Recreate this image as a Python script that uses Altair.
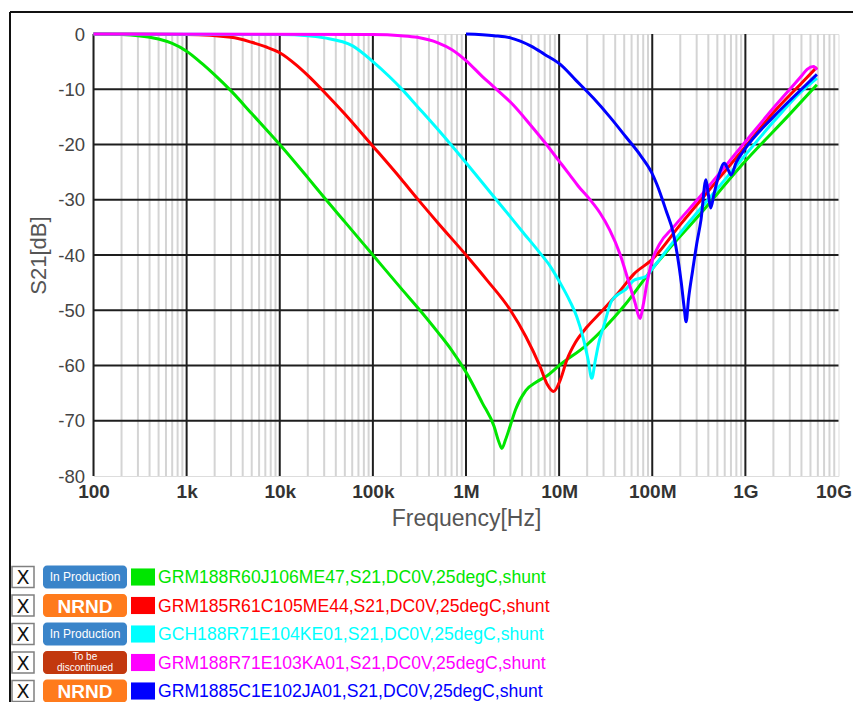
import altair as alt
import pandas as pd

# ---------------- data ----------------
green_f = [100, 200, 300, 500, 700, 1e3, 1.5e3, 2e3, 3e3, 5e3, 7e3, 1e4, 2e4, 3e4, 5e4, 1e5, 2e5,
           3.2e5, 5e5, 7e5, 1e6, 1.5e6, 2e6, 2.25e6, 2.43e6, 2.65e6, 3e6, 3.4e6, 4.4e6, 5.7e6,
           7.5e6, 1e7, 2e7, 5e7, 1e8, 3.3e8, 1e9, 3e9, 5.86e9]
green_db = [0, -0.1, -0.3, -0.9, -1.7, -3.1, -5.5, -7.4, -10.3, -14.4, -17.1, -20.0, -26.0, -29.6,
            -34.0, -40.0, -46.0, -50.0, -54.0, -57.2, -61.2, -66.8, -71.0, -73.8, -75.0, -73.5,
            -70.8, -68.0, -64.5, -63.0, -61.8, -60.0, -56.2, -49.2, -42.5, -32.5, -23.0, -14.5, -9.2]

red_f = [100, 1e3, 3e3, 5e3, 7e3, 1e4, 1.5e4, 2e4, 3e4, 5e4, 7e4, 1e5, 2e5, 3e5, 5e5, 1e6, 1.67e6,
         3e6, 4.4e6, 6.25e6, 7.5e6, 8.7e6, 1.03e7, 1.21e7, 1.5e7, 2e7, 2.75e7, 4.5e7, 6.3e7, 1e8,
         2e8, 5e8, 1e9, 2e9, 4e9, 5.86e9]
red_db = [0, -0.1, -0.6, -1.5, -2.3, -3.4, -5.6, -7.5, -10.5, -14.5, -17.3, -20.3, -26.2, -29.8,
          -34.2, -40.0, -44.5, -50.0, -54.8, -60.2, -63.5, -64.7, -62.6, -59.0, -55.8, -53.0,
          -50.5, -46.5, -43.5, -40.8, -34.5, -26.5, -20.4, -14.2, -8.9, -6.0]

cyan_f = [100, 1e4, 2e4, 3e4, 6e4, 1e5, 1.5e5, 2e5, 3e5, 5e5, 1e6, 2e6, 3e6, 4e6, 6e6, 8e6, 1.03e7,
          1.3e7, 1.55e7, 1.8e7, 2.05e7, 2.24e7, 2.45e7, 2.7e7, 3e7, 3.66e7, 4.5e7, 5.2e7, 6.3e7,
          7.5e7, 8.75e7, 1e8, 1.2e8, 2e8, 5e8, 1e9, 2e9, 4e9, 5.86e9]
cyan_db = [0, -0.1, -0.3, -0.7, -2.1, -5.0, -7.7, -9.8, -13.1, -17.3, -23.3, -29.5, -33.1, -35.7,
           -39.3, -42.0, -45.1, -48.3, -51.2, -54.8, -59.0, -62.3, -59.0, -55.5, -53.0, -48.3,
           -46.9, -46.2, -44.6, -44.2, -43.8, -42.5, -40.8, -36.0, -28.0, -21.9, -15.9, -10.4, -8.0]

magenta_f = [100, 1e5, 2e5, 3e5, 5e5, 7e5, 1e6, 1.5e6, 2e6, 3.2e6, 5e6, 7e6, 1e7, 1.3e7, 1.6e7,
             2.15e7, 2.75e7, 3.5e7, 4.5e7, 5.5e7, 6.5e7, 7.4e7, 8e7, 8.8e7, 1e8, 1.2e8, 1.68e8,
             3.27e8, 1e9, 2e9, 4e9, 4.6e9, 5.4e9, 5.86e9]
magenta_db = [0, -0.1, -0.3, -0.6, -1.6, -2.8, -4.8, -7.7, -9.6, -12.8, -16.6, -19.6, -23.0, -25.5,
              -27.5, -30.0, -32.4, -35.5, -39.8, -44.5, -48.5, -51.5, -49.0, -45.0, -41.0, -38.0,
              -35.0, -29.4, -19.5, -13.4, -7.6, -6.4, -5.9, -6.5]

blue_f = [1e6, 2e6, 3e6, 5e6, 7e6, 1.03e7, 1.5e7, 2.33e7, 3.5e7, 5.2e7, 7.5e7, 9.8e7, 1.12e8,
          1.41e8, 1.68e8, 1.86e8, 2.05e8, 2.2e8, 2.31e8, 2.45e8, 2.72e8, 3e8, 3.34e8, 3.77e8, 4e8,
          4.24e8, 4.6e8, 5.2e8, 5.95e8, 6.5e8, 7e8, 8e8, 1e9, 2e9, 4e9, 5.86e9]
blue_db = [0, -0.3, -0.7, -2.2, -3.7, -5.5, -8.3, -11.6, -15.0, -18.6, -22.0, -25.0, -27.2, -32.0,
           -36.0, -40.0, -45.0, -49.5, -52.1, -48.0, -42.7, -38.0, -33.6, -26.4, -29.0, -31.5,
           -29.0, -25.5, -23.4, -24.5, -25.5, -23.2, -20.7, -15.0, -10.0, -7.3]

series_names = [
    "GRM188R60J106ME47,S21,DC0V,25degC,shunt",
    "GRM185R61C105ME44,S21,DC0V,25degC,shunt",
    "GCH188R71E104KE01,S21,DC0V,25degC,shunt",
    "GRM188R71E103KA01,S21,DC0V,25degC,shunt",
    "GRM1885C1E102JA01,S21,DC0V,25degC,shunt",
]
series_status = ["In Production", "NRND", "In Production", "To be\ndiscontinued", "NRND"]
series_colors = ["#00e600", "#ff0000", "#00ffff", "#ff00ff", "#0000ff"]
series_f = [green_f, red_f, cyan_f, magenta_f, blue_f]
series_db = [green_db, red_db, cyan_db, magenta_db, blue_db]

status_names = ["In Production", "NRND", "To be\ndiscontinued"]
status_colors = ["#3a84c9", "#ff7b1c", "#c2380e"]

major_freqs = [100, 1000, 10000, 100000, 1000000, 10000000, 100000000, 1000000000, 10000000000]
freq_tick_labels = ["100", "1k", "10k", "100k", "1M", "10M", "100M", "1G", "10G"]
minor_mult = [2, 3, 4, 5, 6, 7, 8, 9]
db_ticks = [0, -10, -20, -30, -40, -50, -60, -70, -80]

# ---------------- layout ----------------
W, H = 745, 442
PAD_L, PAD_T, PAD_R, PAD_B = 85.5, 26, 14.5, 226
FONT = "Liberation Sans"

label_expr = " : ".join(f"datum.value == {v} ? '{l}'" for v, l in zip(major_freqs, freq_tick_labels)) + " : ''"
last_label_test = f"datum.value == {major_freqs[-1]}"

x_axis = alt.Axis(values=major_freqs, labelExpr=label_expr, grid=False, ticks=False, tickSize=0,
                  domain=False, labelFont=FONT, labelFontSize=19, labelFontWeight="bold",
                  labelColor="#333333", labelPadding=6, labelFlush=False,
                  labelOffset={"condition": {"test": last_label_test, "value": -5}, "value": 0},
                  title="Frequency[Hz]", titleFont=FONT, titleFontSize=23, titleFontWeight="normal",
                  titleColor="#555555", titlePadding=6)
y_axis = alt.Axis(values=db_ticks, labelExpr="'' + datum.value", grid=False, ticks=False, tickSize=0,
                  domain=False, labelFont=FONT, labelFontSize=18.5, labelColor="#444444",
                  labelPadding=9, title="S21[dB]", titleFont=FONT, titleFontSize=22,
                  titleFontWeight="normal", titleColor="#555555", titlePadding=7)

x_enc = alt.X("freq:Q", scale=alt.Scale(type="log", domain=[100, 10000000000]), axis=x_axis)
y_enc = alt.Y("s21:Q", scale=alt.Scale(domain=[-80, 0], nice=False), axis=y_axis)

minor_df = pd.DataFrame({"freq": [m * d for d in major_freqs[:-1] for m in minor_mult]})
major_x_df = pd.DataFrame({"freq": major_freqs[:-1]})
major_y_df = pd.DataFrame({"s21": db_ticks[1:-1]})

minor_rules = alt.Chart(minor_df).mark_rule(color="#d4d4d4", strokeWidth=2).encode(x=x_enc)
major_x_rules = alt.Chart(major_x_df).mark_rule(color="#1e1e1e", strokeWidth=2).encode(x=x_enc)
major_y_rules = alt.Chart(major_y_df).mark_rule(color="#1e1e1e", strokeWidth=2).encode(y=y_enc)

line_layers = []
for f, db, col in zip(series_f, series_db, series_colors):
    df = pd.DataFrame({"freq": f, "s21": db})
    line_layers.append(
        alt.Chart(df).mark_line(color=col, strokeWidth=3, interpolate="monotone").encode(x=x_enc, y=y_enc)
    )

plot = alt.layer(minor_rules, major_x_rules, major_y_rules, *line_layers)

# ---------------- custom legend (below the plot) ----------------
legend_df = pd.DataFrame({"row": list(range(len(series_names))), "name": series_names,
                          "status": series_status})
legend_df["box_top"] = legend_df["row"] - 0.37
legend_df["box_bot"] = legend_df["row"] + 0.37
legend_df["badge_top"] = legend_df["row"] - 0.40
legend_df["badge_bot"] = legend_df["row"] + 0.40
legend_df["sw_top"] = legend_df["row"] - 0.30
legend_df["sw_bot"] = legend_df["row"] + 0.30

row_scale = alt.Scale(domain=[0, 4], range=[543, 657])
base = alt.Chart(legend_df)


def ry(field):
    return alt.Y(f"{field}:Q", scale=row_scale, axis=None)


checkbox = base.mark_rect(fill="white", stroke="#808080", strokeWidth=1.5).encode(
    x=alt.value(-81.5), x2=alt.value(-59.5), y=ry("box_top"), y2=alt.Y2("box_bot"))
checkmark = base.mark_text(text="X", font="DejaVu Sans", fontSize=19, color="#111111",
                           baseline="middle", align="center", dy=1).encode(
    x=alt.value(-70.5), y=ry("row"))
badge = base.mark_rect(cornerRadius=4).encode(
    x=alt.value(-50.5), x2=alt.value(33.5), y=ry("badge_top"), y2=alt.Y2("badge_bot"),
    color=alt.Color("status:N", scale=alt.Scale(domain=status_names, range=status_colors), legend=None))
badge_prod = base.transform_filter(alt.datum.status == "In Production").mark_text(
    font=FONT, fontSize=12, color="white", baseline="middle", align="center").encode(
    x=alt.value(-8.5), y=ry("row"), text="status:N")
badge_nrnd = base.transform_filter(alt.datum.status == "NRND").mark_text(
    font=FONT, fontSize=19, fontWeight="bold", color="white", baseline="middle", align="center",
    dy=1).encode(x=alt.value(-8.5), y=ry("row"), text="status:N")
tbd = base.transform_filter(alt.datum.status == "To be\ndiscontinued").transform_calculate(
    line1="split(datum.status, '\\n')[0]", line2="split(datum.status, '\\n')[1]")
badge_tbd1 = tbd.mark_text(font=FONT, fontSize=10, color="white", baseline="middle", align="center",
                           dy=-5.5).encode(x=alt.value(-8.5), y=ry("row"), text="line1:N")
badge_tbd2 = tbd.mark_text(font=FONT, fontSize=10, color="white", baseline="middle", align="center",
                           dy=5.5).encode(x=alt.value(-8.5), y=ry("row"), text="line2:N")
swatch = base.mark_rect().encode(
    x=alt.value(37.5), x2=alt.value(61.5), y=ry("sw_top"), y2=alt.Y2("sw_bot"),
    color=alt.Color("name:N", scale=alt.Scale(domain=series_names, range=series_colors), legend=None))
names = base.mark_text(font=FONT, fontSize=17.6, baseline="middle", align="left", dy=1).encode(
    x=alt.value(64.5), y=ry("row"), text="name:N",
    color=alt.Color("name:N", scale=alt.Scale(domain=series_names, range=series_colors), legend=None))

# outer frame (decoration of the widget box)
frame_left = alt.Chart(legend_df).mark_rule(color="#111111", strokeWidth=2).encode(
    x=alt.value(-83.5), y=alt.value(-22), y2=alt.value(H + PAD_B))
frame_top = alt.Chart(legend_df).mark_rule(color="#111111", strokeWidth=2).encode(
    x=alt.value(-83.5), x2=alt.value(W + PAD_R), y=alt.value(-22))

legend = alt.layer(frame_left, frame_top, checkbox, checkmark, badge, badge_prod, badge_nrnd,
                   badge_tbd1, badge_tbd2, swatch, names).resolve_scale(color="independent")

chart = alt.layer(plot, legend).resolve_scale(y="independent", color="independent").properties(
    width=W, height=H,
    autosize=alt.AutoSizeParams(type="none"),
    padding={"left": PAD_L, "top": PAD_T, "right": PAD_R, "bottom": PAD_B},
).configure_view(stroke="#9a9a9a", strokeWidth=2).configure(background="white")

chart.save("out.html", embed_options={"renderer": "svg", "actions": False})
